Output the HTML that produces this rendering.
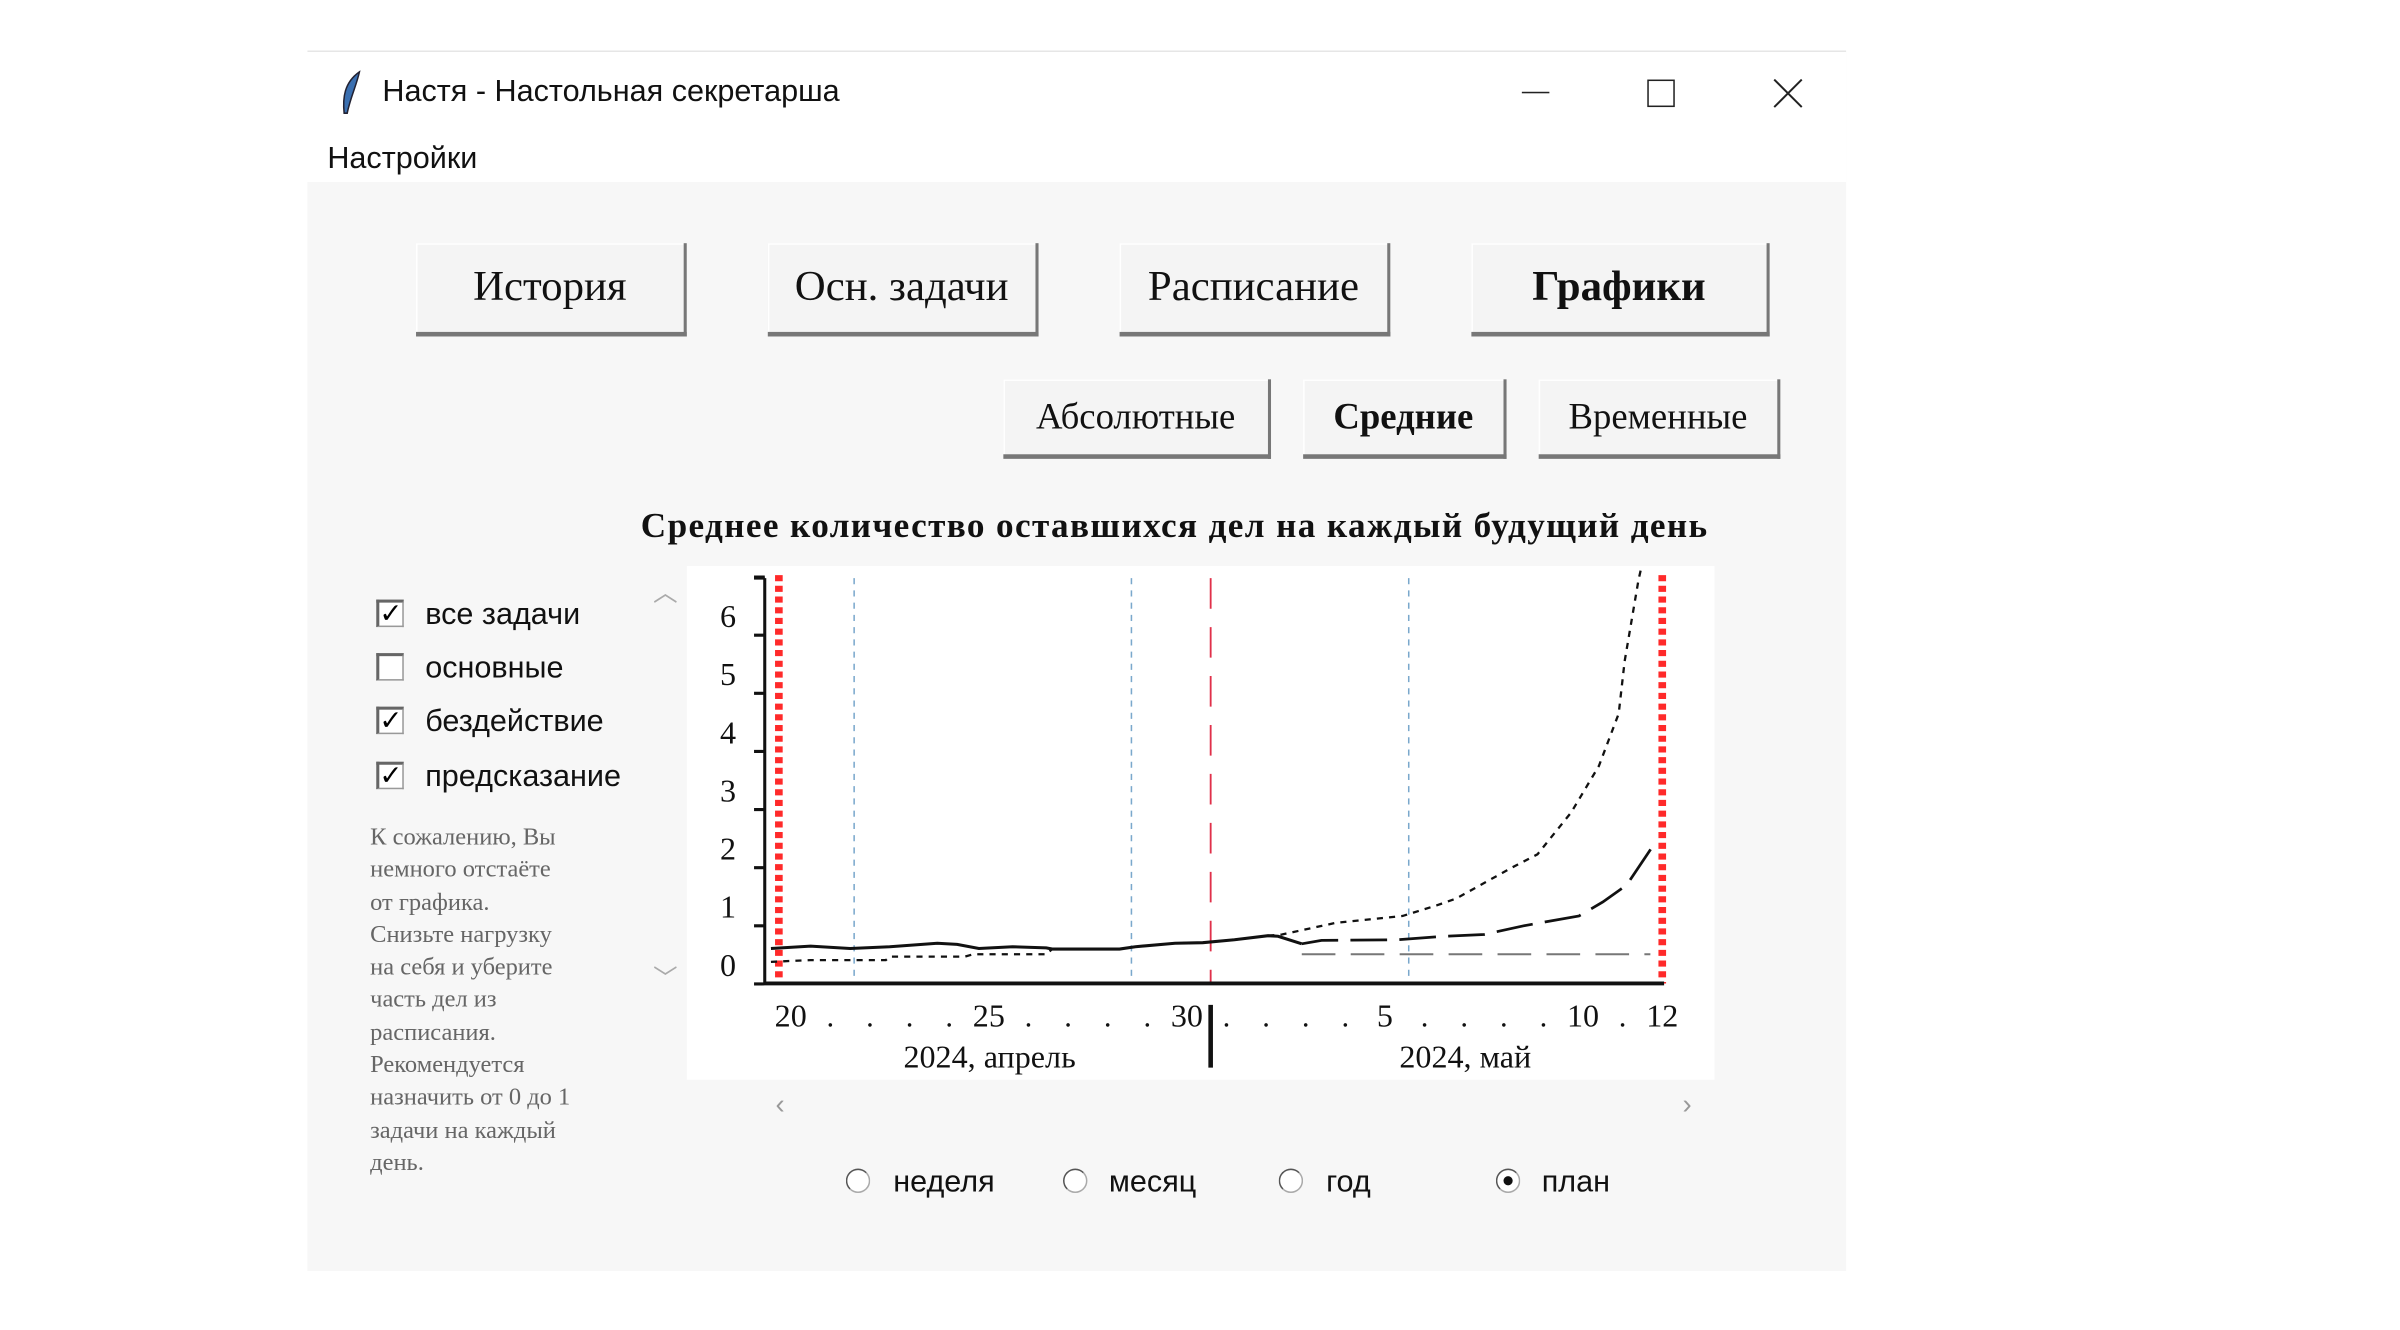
<!DOCTYPE html>
<html><head><meta charset="utf-8">
<style>
html,body{margin:0;padding:0;background:#fff;width:2400px;height:1330px;overflow:hidden}
#root{position:absolute;left:0;top:0;width:1560px;height:865px;transform:scale(1.5295);transform-origin:0 0;font-family:"Liberation Sans","DejaVu Sans",sans-serif}
.abs{position:absolute}
#win{left:201px;top:33px;width:1006px;height:797px;background:#f7f7f7;border-top:1px solid #e6e6e6}
#titlebar{left:0;top:0;width:1006px;height:52px;background:#fff}
#menubar{left:0;top:52px;width:1006px;height:33px;background:#fff}
.btn{position:absolute;background:#f4f4f4;border-right:2px solid #777;border-bottom:3px solid #777;box-sizing:border-box;font-family:"Liberation Serif","DejaVu Serif",serif;color:#111;text-align:center;box-shadow:inset 1px 1px 0 #fff}
.cb{position:absolute;width:18px;height:18px;border:1px solid #999;border-left:2px solid #666;border-top:2px solid #666;background:#fff;box-sizing:border-box;font-size:18px;line-height:14px;text-align:center;font-weight:bold}
.lbl{position:absolute;font-size:20px;color:#111}
.radio{position:absolute;width:16px;height:16px;border-radius:50%;border:1px solid #aaa;border-left-color:#555;border-top-color:#555;box-sizing:border-box;background:#fff}
</style></head><body>
<div id="root">
<div id="win" class="abs">
 <div id="titlebar" class="abs">
  <svg class="abs" style="left:20px;top:12px" width="18" height="30"><path d="M14 1 C4 8 3 18 4 28 L6 28 C8 18 12 10 14 1Z" fill="#3a6fb0" stroke="#223" stroke-width="1"/></svg>
  <div class="abs" style="left:49px;top:15px;font-size:20px;color:#111">Настя - Настольная секретарша</div>
  <div class="abs" style="left:794px;top:26px;width:18px;height:1px;background:#222"></div>
  <div class="abs" style="left:876px;top:18px;width:16px;height:16px;border:1px solid #222"></div>
  <svg class="abs" style="left:958px;top:17px" width="20" height="20"><path d="M1 1L19 19M19 1L1 19" stroke="#222" stroke-width="1.3"/></svg>
 </div>
 <div id="menubar" class="abs">
  <div class="abs" style="left:13px;top:7px;font-size:20px;color:#111">Настройки</div>
 </div>
 <div class="btn" style="left:71px;top:125px;width:177px;height:61px;font-size:28px;line-height:58px">История</div>
 <div class="btn" style="left:301px;top:125px;width:177px;height:61px;font-size:28px;line-height:58px">Осн. задачи</div>
 <div class="btn" style="left:531px;top:125px;width:177px;height:61px;font-size:28px;line-height:58px">Расписание</div>
 <div class="btn" style="left:761px;top:125px;width:195px;height:61px;font-size:28px;line-height:58px;font-weight:bold">Графики</div>
 <div class="btn" style="left:455px;top:214px;width:175px;height:52px;font-size:24px;line-height:50px">Абсолютные</div>
 <div class="btn" style="left:651px;top:214px;width:133px;height:52px;font-size:24px;line-height:50px;font-weight:bold">Средние</div>
 <div class="btn" style="left:805px;top:214px;width:158px;height:52px;font-size:24px;line-height:50px">Временные</div>
 <div class="abs" style="left:0;top:297px;width:1134px;text-align:center;font-family:'Liberation Serif','DejaVu Serif',serif;font-weight:bold;font-size:23px;letter-spacing:0.9px;color:#111">Среднее количество оставшихся дел на каждый будущий день</div>

 <div class="cb" style="left:45px;top:358px">✓</div>
 <div class="lbl" style="left:77px;top:357px">все задачи</div>
 <div class="cb" style="left:45px;top:393px"></div>
 <div class="lbl" style="left:77px;top:392px">основные</div>
 <div class="cb" style="left:45px;top:428px">✓</div>
 <div class="lbl" style="left:77px;top:427px">бездействие</div>
 <div class="cb" style="left:45px;top:464px">✓</div>
 <div class="lbl" style="left:77px;top:463px">предсказание</div>
 <div class="abs" style="left:226px;top:340px;color:#aaa;font-size:16px">︿</div>
 <div class="abs" style="left:226px;top:592px;color:#aaa;font-size:16px">﹀</div>
 <div class="abs" style="left:41px;top:503px;width:180px;font-family:'Liberation Serif','DejaVu Serif',serif;font-size:16px;line-height:21.3px;color:#666">К сожалению, Вы<br>немного отстаёте<br>от графика.<br>Снизьте нагрузку<br>на себя и уберите<br>часть дел из<br>расписания.<br>Рекомендуется<br>назначить от 0 до 1<br>задачи на каждый<br>день.</div>

 <div class="abs" style="left:306px;top:678px;color:#999;font-size:18px">‹</div>
 <div class="abs" style="left:899px;top:678px;color:#999;font-size:18px">›</div>

 <div class="radio" style="left:352px;top:730px"></div>
 <div class="lbl" style="left:383px;top:728px">неделя</div>
 <div class="radio" style="left:494px;top:730px"></div>
 <div class="lbl" style="left:524px;top:728px">месяц</div>
 <div class="radio" style="left:635px;top:730px"></div>
 <div class="lbl" style="left:666px;top:728px">год</div>
 <div class="radio" style="left:777px;top:730px"><div style="position:absolute;left:4px;top:4px;width:6px;height:6px;border-radius:50%;background:#111"></div></div>
 <div class="lbl" style="left:807px;top:728px">план</div>
</div>

<svg id="chart" class="abs" style="left:449px;top:370px" width="672" height="336"></svg>
</div>

<script>
const dayLabels=["20","25","30","5","10","12"];
const dayLabelIdx=[0,5,10,15,20,22];
const yTicks=[0,1,2,3,4,5,6];
const histDays=[-0.5,0.5,1.5,2.5,3.7,4.2,4.75,5.6,6.45,6.6,8.3,8.7,9.7,10.4,11.2,12.05,12.3,12.9];
const histVals=[0.26,0.3,0.26,0.29,0.35,0.33,0.26,0.29,0.27,0.25,0.25,0.29,0.35,0.36,0.41,0.48,0.47,0.34];
const predDays=[12.9,13.4,15.3,16.5,17.5,18.5,19.9,20.5,21.1,21.8];
const predVals=[0.34,0.4,0.41,0.47,0.5,0.65,0.82,1.06,1.35,2.06];
const idleDays=[-0.5,0.5,2.4,2.5,4.4,4.6,6.45,6.6,8.3,8.7,9.7,10.4,11.2,12.05,12.4,12.6,13.75,15.45,16.3,16.8,18.2,18.85,19.7,20.4,20.9,21.05,21.4,21.5];
const idleVals=[0.03,0.06,0.06,0.12,0.12,0.16,0.16,0.25,0.25,0.29,0.35,0.36,0.41,0.48,0.5,0.53,0.7,0.82,1.0,1.12,1.65,1.88,2.6,3.4,4.3,5.2,6.6,6.9];
const baseDays=[12.9,21.7];
const baseVals=[0.16,0.16];
const weekLines=[1.6,8.6,15.6];
const todayIdx=10.6;
const boundIdx=[-0.3,22];

const OX=449,OY=370;
const xs=d=>517+25.9*d-OX;
const ys=v=>630-38*v-OY;
const svg=document.getElementById('chart');
const NS='http://www.w3.org/2000/svg';
function mk(t,a){const e=document.createElementNS(NS,t);for(const k in a)e.setAttribute(k,a[k]);svg.appendChild(e);return e;}
let e;
e=mk('rect',{x:0,y:0,width:672,height:336,fill:'#fff'});


weekLines.forEach(d=>{e=mk('line',{x1:xs(d),x2:xs(d),y1:8,y2:273,stroke:'#7aa8cc','stroke-width':1,'stroke-dasharray':'4 4'});

});
e=mk('line',{x1:xs(todayIdx),x2:xs(todayIdx),y1:8,y2:273,stroke:'#e0304a','stroke-width':1.2,'stroke-dasharray':'20 12'});


boundIdx.forEach(d=>{e=mk('line',{x1:xs(d),x2:xs(d),y1:6,y2:273,stroke:'#ff2a2a','stroke-width':5,'stroke-dasharray':'4 3'});

});
function pts(ds,vs){return ds.map((d,i)=>xs(d)+','+ys(vs[i])).join(' ');}
e=mk('polyline',{points:pts(baseDays,baseVals),fill:'none',stroke:'#777','stroke-width':1.3,'stroke-dasharray':'22 10'});


const cp=mk('clipPath',{id:'cl'});const cr=document.createElementNS(NS,'rect');cr.setAttribute('x',0);cr.setAttribute('y',0);cr.setAttribute('width',672);cr.setAttribute('height',274);cp.appendChild(cr);
e=mk('polyline',{points:pts(idleDays,idleVals),fill:'none',stroke:'#111','stroke-width':1.5,'stroke-dasharray':'4 4','clip-path':'url(#cl)'});


e=mk('polyline',{points:pts(histDays,histVals),fill:'none',stroke:'#111','stroke-width':2});


e=mk('polyline',{points:pts(predDays,predVals),fill:'none',stroke:'#111','stroke-width':1.8,'stroke-dasharray':'24 8'});


e=mk('line',{x1:51,x2:51,y1:8,y2:274,stroke:'#111','stroke-width':2});


e=mk('line',{x1:51,x2:639,y1:273,y2:273,stroke:'#111','stroke-width':2.5});


for(let v=-0.35;v<7;v+=1){e=mk('line',{x1:44,x2:51,y1:ys(v),y2:ys(v),stroke:'#111','stroke-width':2});

}
e=mk('line',{x1:44,x2:51,y1:8,y2:8,stroke:'#111','stroke-width':2});


yTicks.forEach(v=>{e=mk('text',{x:27,y:ys(v)+8,'text-anchor':'middle','font-family':'Liberation Serif, serif','font-size':21,fill:'#111'});e.textContent=v;

});
dayLabels.forEach((t,i)=>{e=mk('text',{x:xs(dayLabelIdx[i]),y:301,'text-anchor':'middle','font-family':'Liberation Serif, serif','font-size':21,fill:'#111'});e.textContent=t;

});
for(let d=1;d<22;d++){if(dayLabelIdx.includes(d))continue;e=mk('text',{x:xs(d),y:301,'text-anchor':'middle','font-family':'Liberation Serif, serif','font-size':20,fill:'#111'});e.textContent='.';

}
e=mk('line',{x1:xs(todayIdx),x2:xs(todayIdx),y1:287,y2:328,stroke:'#111','stroke-width':3});


[['2024, апрель',198],['2024, май',509]].forEach(m=>{e=mk('text',{x:m[1],y:328,'text-anchor':'middle','font-family':'Liberation Serif, serif','font-size':21,fill:'#111'});e.textContent=m[0];

});
</script>
</body></html>
